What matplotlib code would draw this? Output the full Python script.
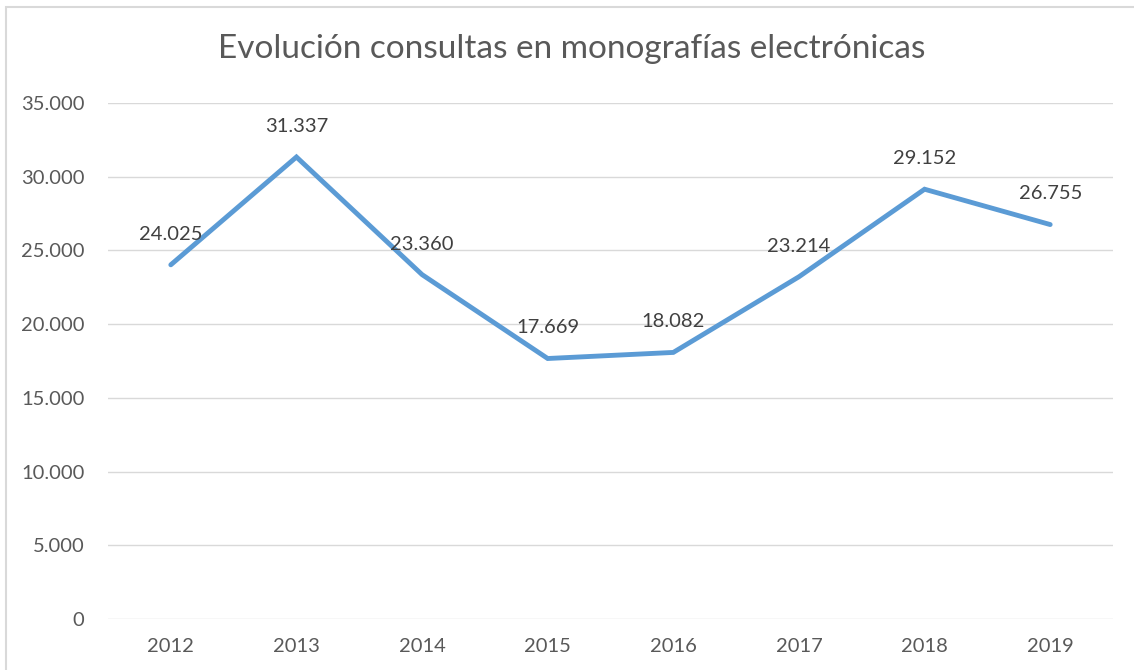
import matplotlib
matplotlib.use("Agg")
import matplotlib.pyplot as plt
from matplotlib.patches import Rectangle
from matplotlib.ticker import FuncFormatter

YEARS = ["2012", "2013", "2014", "2015", "2016", "2017", "2018", "2019"]
CONSULTAS = [24025, 31337, 23360, 17669, 18082, 23214, 29152, 26755]
Y_TICKS = [0, 5000, 10000, 15000, 20000, 25000, 30000, 35000]
TITLE = "Evolución consultas en monografías electrónicas"

LINE_COLOR = "#5B9BD5"
TEXT_COLOR = "#595959"
GRID_COLOR = "#D9D9D9"


def miles(v, _pos=None):
    # Spanish thousands separator
    return f"{int(round(v)):,}".replace(",", ".")


def main():
    plt.rcParams.update({
        "font.family": ["Lato", "DejaVu Sans"],
        "font.size": 14.5,
    })

    W, H = 1134, 670
    fig = plt.figure(figsize=(W / 100, H / 100), dpi=100)
    ax = fig.add_axes([108 / W, 1 - 619 / H, 1005 / W, 516 / H])

    # light chart-area border (top/left visible in the original crop)
    fig.patches.append(Rectangle((6 / W, -0.1), 1.2, 1 - 7 / H + 0.1,
                                 transform=fig.transFigure, fill=False,
                                 edgecolor="#D9D9D9", lw=1.5))

    x = list(range(len(YEARS)))
    ax.plot(x, CONSULTAS, color=LINE_COLOR, lw=3.5,
            solid_joinstyle="miter", solid_capstyle="round", zorder=3)

    for xi, v in zip(x, CONSULTAS):
        ax.annotate(miles(v), (xi, v), xytext=(0, 22),
                    textcoords="offset points", ha="center", va="center",
                    color="#404040", fontsize=14.5, zorder=4)

    ax.set_xlim(-0.5, len(YEARS) - 0.5)
    ax.set_ylim(0, 35000)
    ax.set_xticks(x)
    ax.set_xticklabels(YEARS)
    ax.set_yticks(Y_TICKS)
    ax.yaxis.set_major_formatter(FuncFormatter(miles))

    ax.grid(axis="y", color=GRID_COLOR, lw=1.0)
    ax.set_axisbelow(True)
    for sp in ax.spines.values():
        sp.set_visible(False)
    ax.tick_params(axis="both", length=0, colors=TEXT_COLOR, labelsize=14.5)
    ax.tick_params(axis="y", pad=17)
    ax.tick_params(axis="x", pad=14)

    fig.text(0.504, 1 - 49 / H, TITLE, ha="center", va="center",
             fontsize=24, color=TEXT_COLOR)

    fig.savefig("out.png", dpi=100)
    plt.close(fig)


if __name__ == "__main__":
    main()
